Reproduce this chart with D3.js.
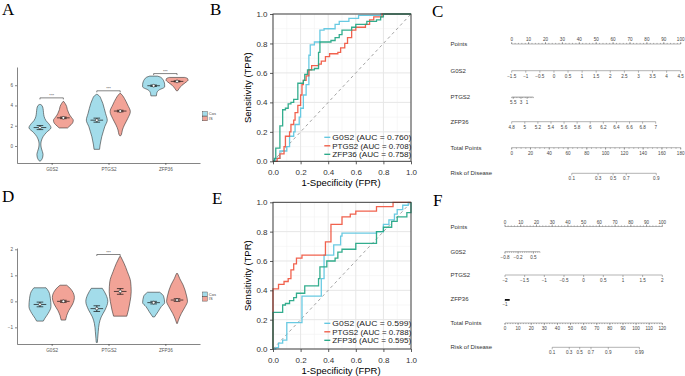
<!DOCTYPE html>
<html>
<head>
<meta charset="utf-8">
<style>
    body { margin: 0; background: #fff; }
    text { font-family: "Liberation Sans", Arial, sans-serif; }
    .letter { font-family: "Liberation Serif", "Times New Roman", serif; font-size: 17px; fill: #000; }
</style>
</head>
<body>
<svg id="fig" width="685" height="376"></svg>
<script src="https://d3js.org/d3.v7.min.js"></script>
<script>
// ---------------- data ----------------
const genes = ["G0S2", "PTGS2", "ZFP36"]
const groups = ["Cos", "IS"]

// violin outlines: [expression value, relative half width]
const aG0S2Cos  = [[-1.5,0.03],[-1.35,0.15],[-1.1,0.25],[-0.85,0.28],[-0.55,0.22],[-0.2,0.12],[0.2,0.08],[0.6,0.15],[0.95,0.3],[1.35,0.6],[1.8,1.0],[2.2,0.8],[2.5,0.55],[2.9,0.38],[3.3,0.32],[3.7,0.28],[4.0,0.18],[4.1,0.04]]
const aG0S2IS   = [[1.78,0.38],[1.9,0.5],[2.1,0.7],[2.3,0.85],[2.55,0.9],[2.8,0.75],[3.05,0.58],[3.35,0.45],[3.6,0.36],[3.9,0.3],[4.2,0.16],[4.4,0.03]]
const aPTGS2Cos = [[-0.33,0.25],[0.1,0.3],[0.5,0.37],[0.92,0.45],[1.4,0.58],[1.9,0.72],[2.55,0.95],[3.2,0.8],[3.7,0.68],[4.2,0.55],[4.6,0.4],[4.95,0.22],[5.1,0.03]]
const aPTGS2IS  = [[1.0,0.03],[1.1,0.1],[1.58,0.2],[2.07,0.38],[2.7,0.68],[3.4,0.92],[4.05,0.68],[4.7,0.38],[5.0,0.2],[5.2,0.03]]
const aZFP36Cos = [[4.95,0.25],[5.2,0.28],[5.5,0.45],[5.84,1.0],[6.1,1.0],[6.33,0.95],[6.6,0.82],[6.8,0.62],[6.9,0.35]]
const aZFP36IS  = [[5.45,0.05],[5.68,0.2],[6.0,0.45],[6.33,0.85],[6.5,1.0],[6.67,0.95],[6.77,0.7]]

const dG0S2Cos  = [[-0.76,0.3],[-0.65,0.45],[-0.46,0.75],[-0.2,1.0],[0.1,0.95],[0.37,0.8],[0.52,0.55]]
const dG0S2IS   = [[-0.72,0.2],[-0.55,0.3],[-0.35,0.5],[-0.1,0.85],[0.15,1.0],[0.4,0.8],[0.55,0.5],[0.62,0.3]]
const dPTGS2Cos = [[-1.58,0.05],[-1.42,0.08],[-1.17,0.13],[-0.85,0.22],[-0.6,0.4],[-0.33,0.75],[0,1.0],[0.24,0.85],[0.5,0.5]]
const dPTGS2IS  = [[-0.57,0.6],[-0.33,0.75],[0,0.9],[0.37,1.0],[0.75,0.95],[1.14,0.65],[1.46,0.35],[1.72,0.05]]
const dZFP36Cos = [[-0.6,0.08],[-0.4,0.4],[-0.2,0.7],[-0.05,1.0],[0.2,0.9],[0.35,0.55]]
const dZFP36IS  = [[-0.85,0.03],[-0.72,0.13],[-0.46,0.4],[-0.2,0.75],[0,0.95],[0.24,0.85],[0.63,0.55],[0.87,0.25],[1.07,0.05]]

// mean and error bar per gene/group (G0S2 Cos, G0S2 IS, PTGS2 Cos, ...)
const meanA = [1.82, 2.78, 2.55, 3.45, 5.95, 6.38]
const loA   = [1.62, 2.70, 2.35, 3.37, 5.88, 6.33]
const hiA   = [2.02, 2.86, 2.75, 3.53, 6.02, 6.43]
const meanD = [-0.12, 0.0, -0.28, 0.38, -0.05, 0.05]
const loD   = [-0.21, -0.04, -0.39, 0.27, -0.10, 0.0]
const hiD   = [-0.03, 0.04, -0.17, 0.49, 0.0, 0.10]

const sigGenesA = ["G0S2", "PTGS2", "ZFP36"]
const sigYA = [4.75, 5.45, 7.15]
const sigGenesD = ["PTGS2"]
const sigYD = [1.8]

// ROC curves: [FPR, TPR] at each step
const rocB_G0S2  = [[0,0],[0.02,0.02],[0.05,0.07],[0.1,0.1],[0.12,0.17],[0.15,0.2],[0.16,0.25],[0.19,0.3],[0.2,0.36],[0.22,0.45],[0.24,0.52],[0.26,0.72],[0.27,0.79],[0.3,0.81],[0.34,0.89],[0.37,0.9],[0.45,0.93],[0.48,0.95],[0.55,0.97],[0.62,0.99],[0.78,1],[1,1]]
const rocB_PTGS2 = [[0,0],[0.03,0.02],[0.05,0.05],[0.08,0.1],[0.09,0.17],[0.12,0.2],[0.13,0.25],[0.15,0.28],[0.16,0.33],[0.18,0.38],[0.2,0.45],[0.21,0.52],[0.22,0.55],[0.24,0.58],[0.26,0.62],[0.28,0.65],[0.33,0.66],[0.35,0.68],[0.38,0.71],[0.41,0.73],[0.47,0.74],[0.49,0.77],[0.52,0.8],[0.54,0.84],[0.57,0.89],[0.6,0.91],[0.67,0.93],[0.7,0.96],[0.73,0.98],[0.79,1],[1,1]]
const rocB_ZFP36 = [[0,0],[0.01,0.02],[0.02,0.09],[0.05,0.24],[0.07,0.35],[0.09,0.36],[0.11,0.39],[0.13,0.4],[0.15,0.42],[0.18,0.53],[0.22,0.55],[0.23,0.59],[0.25,0.62],[0.3,0.63],[0.33,0.74],[0.34,0.81],[0.42,0.82],[0.45,0.84],[0.48,0.86],[0.5,0.89],[0.57,0.91],[0.6,0.93],[0.68,0.95],[0.75,0.96],[0.78,0.98],[0.8,1],[1,1]]
const rocE_G0S2  = [[0,0],[0.02,0.01],[0.04,0.04],[0.07,0.06],[0.1,0.18],[0.21,0.36],[0.35,0.48],[0.37,0.64],[0.44,0.71],[0.49,0.77],[0.5,0.79],[0.75,0.8],[0.8,0.85],[0.84,0.88],[0.88,0.92],[0.9,0.95],[0.94,0.98],[0.98,1],[1,1]]
const rocE_PTGS2 = [[0,0],[0,0.41],[0.04,0.44],[0.08,0.46],[0.11,0.48],[0.13,0.54],[0.15,0.58],[0.17,0.62],[0.21,0.64],[0.38,0.73],[0.42,0.85],[0.5,0.9],[0.56,0.92],[0.6,0.94],[0.75,0.97],[0.87,1],[1,1]]
const rocE_ZFP36 = [[0,0],[0,0.25],[0.07,0.3],[0.09,0.31],[0.12,0.33],[0.15,0.35],[0.17,0.38],[0.23,0.43],[0.33,0.48],[0.34,0.56],[0.39,0.6],[0.45,0.62],[0.47,0.66],[0.5,0.68],[0.6,0.72],[0.75,0.8],[0.8,0.83],[0.86,0.87],[0.9,0.9],[0.97,0.93],[1,1]]
const aucB = ["0.760", "0.708", "0.758"]
const aucE = ["0.599", "0.788", "0.595"]
const rocTicks = [0, 0.2, 0.4, 0.6, 0.8, 1]

// nomograms
const nomoRows = ["Points", "G0S2", "PTGS2", "ZFP36", "Total Points", "Risk of Disease"]
const pointTicks = [0, 10, 20, 30, 40, 50, 60, 70, 80, 90, 100]
const nomoC_G0S2 = [-1.5, -1, -0.5, 0, 0.5, 1, 1.5, 2, 2.5, 3, 3.5, 4, 4.5]
const nomoC_PTGS2 = [5.5, 3, 1]
const nomoC_ZFP36 = [4.8, 5, 5.2, 5.4, 5.6, 5.8, 6, 6.2, 6.4, 6.6, 6.8, 7]
const nomoC_total = [0, 20, 40, 60, 80, 100, 120, 140, 160, 180]
const nomoC_risk = [0.1, 0.3, 0.5, 0.7, 0.9]
const nomoC_riskPts = [64, 92, 108, 122, 154]
const nomoF_G0S2 = [-0.8, -0.2, 0.5]
const nomoF_PTGS2 = [-2, -1.5, -1, -0.5, 0, 0.5, 1, 1.5, 2]
const nomoF_ZFP36 = [-1]
const nomoF_total = [0, 10, 20, 30, 40, 50, 60, 70, 80, 90, 100, 110, 120]
const nomoF_risk = [0.1, 0.3, 0.5, 0.7, 0.9, 0.99]
const nomoF_riskPts = [36, 49, 57, 65.6, 78.8, 102.5]

// ---------------- drawing ----------------
const groupColors = ["#A3DCEA", "#F2A397"]
const rocColors = ["#5CC5DF", "#F0553F", "#22A684"]
const svg = d3.select("#fig")
const minus = d => String(d).replace("-", "\u2212")

function violinPanel(shapes, domain, range, ticks, mean, lo, hi, sigGenes, sigY, legendTop) {
    let g = svg.append("g")
    let x = d3.scalePoint().domain(genes).range([17, 200]).padding(0.61)
    let y = d3.scaleLinear().domain(domain).range(range)
    let w = d3.scaleLinear().domain([0, 1]).range([0, 11])
    let dodge = 11.7
    let cx = (i) => x(genes[Math.floor(i / 2)]) + (i % 2 == 0 ? -dodge : dodge)

    shapes.forEach((s, i) => {
        let c = cx(i)
        let area = d3.area().curve(d3.curveMonotoneY)
            .x0(d => c - w(d[1])).x1(d => c + w(d[1])).y(d => y(d[0]))
        g.append("path").attr("d", area(s))
            .attr("fill", groupColors[i % 2]).attr("stroke", "#333").attr("stroke-width", 0.6)
    })

    mean.forEach((m, i) => {
        let c = cx(i)
        let k = g.append("g").attr("stroke", "#111").attr("stroke-width", 0.7)
        k.append("line").attr("x1", c).attr("x2", c).attr("y1", y(lo[i])).attr("y2", y(hi[i]))
        k.append("line").attr("x1", c - 3.3).attr("x2", c + 3.3).attr("y1", y(lo[i])).attr("y2", y(lo[i]))
        k.append("line").attr("x1", c - 3.3).attr("x2", c + 3.3).attr("y1", y(hi[i])).attr("y2", y(hi[i]))
        k.append("line").attr("x1", c - 6.3).attr("x2", c + 6.3).attr("y1", y(m)).attr("y2", y(m))
        k.append("circle").attr("cx", c).attr("cy", y(m)).attr("r", 1.4)
            .attr("fill", "#fff").attr("stroke-width", 0.5)
    })

    sigGenes.forEach((gene, j) => {
        let i = genes.indexOf(gene) * 2
        let x0 = cx(i), x1 = cx(i + 1), yy = y(sigY[j])
        g.append("path").attr("d", `M${x0},${yy + 1.5}V${yy}H${x1}V${yy + 1.5}`)
            .attr("fill", "none").attr("stroke", "#333").attr("stroke-width", 0.6)
        g.append("text").attr("x", (x0 + x1) / 2).attr("y", yy - 0.8)
            .attr("text-anchor", "middle").attr("font-size", 4).attr("fill", "#444").text("***")
    })

    g.append("g").attr("transform", "translate(17,0)")
        .call(d3.axisLeft(y).tickValues(ticks).tickSize(2).tickSizeOuter(0).tickPadding(2).tickFormat(minus))
    g.append("g").attr("transform", `translate(0,${range[0]})`)
        .call(d3.axisBottom(x).tickSize(2).tickSizeOuter(0).tickPadding(3))
    g.selectAll(".tick text").attr("font-size", 4.6).attr("fill", "#555").attr("font-family", "Liberation Sans")
    g.selectAll(".domain, .tick line").attr("stroke", "#333").attr("stroke-width", 0.6)

    groups.forEach((grp, i) => {
        g.append("rect").attr("x", 202.7).attr("y", legendTop + i * 4.8).attr("width", 4.5).attr("height", 4.3)
            .attr("fill", groupColors[i]).attr("stroke", "#333").attr("stroke-width", 0.4)
        g.append("text").attr("x", 208.8).attr("y", legendTop + i * 4.8 + 3.6)
            .attr("font-size", 4).attr("fill", "#444").text(grp)
    })
}

function rocPanel(curves, aucs, yRange, legendY) {
    let g = svg.append("g")
    let x = d3.scaleLinear().domain([0, 1]).range([273, 411])
    let y = d3.scaleLinear().domain([0, 1]).range(yRange)

    let minor = [0.1, 0.3, 0.5, 0.7, 0.9]
    minor.forEach(v => {
        g.append("line").attr("x1", x(v)).attr("x2", x(v)).attr("y1", y(0)).attr("y2", y(1)).attr("stroke", "#F2F2F2").attr("stroke-width", 0.6)
        g.append("line").attr("x1", x(0)).attr("x2", x(1)).attr("y1", y(v)).attr("y2", y(v)).attr("stroke", "#F2F2F2").attr("stroke-width", 0.6)
    })
    rocTicks.forEach(v => {
        g.append("line").attr("x1", x(v)).attr("x2", x(v)).attr("y1", y(0)).attr("y2", y(1)).attr("stroke", "#E6E6E6").attr("stroke-width", 1)
        g.append("line").attr("x1", x(0)).attr("x2", x(1)).attr("y1", y(v)).attr("y2", y(v)).attr("stroke", "#E6E6E6").attr("stroke-width", 1)
    })
    g.append("line").attr("x1", x(0)).attr("y1", y(0)).attr("x2", x(1)).attr("y2", y(1))
        .attr("stroke", "#999").attr("stroke-width", 0.9).attr("stroke-dasharray", "3,3")

    let line = d3.line().x(d => x(d[0])).y(d => y(d[1])).curve(d3.curveStepAfter)
    curves.forEach((c, i) => {
        g.append("path").attr("d", line(c)).attr("fill", "none")
            .attr("stroke", rocColors[i]).attr("stroke-width", 1.3).attr("stroke-opacity", 0.92)
    })

    g.append("rect").attr("x", x(0)).attr("y", y(1)).attr("width", x(1) - x(0)).attr("height", y(0) - y(1))
        .attr("fill", "none").attr("stroke", "#333").attr("stroke-width", 0.9)

    let fmt = d3.format(".1f")
    g.append("g").attr("transform", `translate(0,${y(0)})`)
        .call(d3.axisBottom(x).tickValues(rocTicks).tickFormat(fmt).tickSize(3).tickPadding(5))
    g.append("g").attr("transform", `translate(${x(0)},0)`)
        .call(d3.axisLeft(y).tickValues(rocTicks).tickFormat(fmt).tickSize(3).tickPadding(2.5))
    g.selectAll(".domain").remove()
    g.selectAll(".tick line").attr("stroke", "#333").attr("stroke-width", 0.8)
    g.selectAll(".tick text").attr("font-size", 8).attr("fill", "#333").attr("font-family", "Liberation Sans")

    g.append("text").attr("x", (x(0) + x(1)) / 2 - 1).attr("y", y(0) + 24.5).attr("text-anchor", "middle")
        .attr("font-size", 9.5).attr("fill", "#000").text("1-Specificity (FPR)")
    g.append("text").attr("transform", `translate(250.8,${(y(0) + y(1)) / 2}) rotate(-90)`)
        .attr("text-anchor", "middle").attr("font-size", 9.5).attr("fill", "#000").text("Sensitivity (TPR)")

    genes.forEach((gene, i) => {
        let ly = legendY + i * 8.5
        g.append("line").attr("x1", 324.3).attr("x2", 330.3).attr("y1", ly).attr("y2", ly)
            .attr("stroke", rocColors[i]).attr("stroke-width", 1.3)
        g.append("text").attr("x", 332.3).attr("y", ly + 2.8).attr("font-size", 7.6).attr("fill", "#222")
            .attr("textLength", 79).attr("lengthAdjust", "spacingAndGlyphs")
            .text(`${gene} (AUC = ${aucs[i]})`)
    })
}

function nomoAxis(g, yy, px, values, labels, minorVals, above) {
    let dir = above ? -1 : 1
    let ends = d3.extent(values.concat(minorVals).map(px))
    g.append("line").attr("x1", ends[0]).attr("x2", ends[1]).attr("y1", yy).attr("y2", yy)
    minorVals.forEach(v => g.append("line").attr("x1", px(v)).attr("x2", px(v)).attr("y1", yy).attr("y2", yy + dir * 1.1))
    values.forEach((v, i) => {
        g.append("line").attr("x1", px(v)).attr("x2", px(v)).attr("y1", yy).attr("y2", yy + dir * 2)
        g.append("text").attr("x", px(v)).attr("y", above ? yy - 2.8 : yy + 7)
            .attr("text-anchor", "middle").attr("stroke", "none").attr("fill", "#444")
            .attr("font-size", 4.6).text(labels ? labels[i] : minus(v))
    })
}

function nomoPanel(x0, x1, rowY, totalMax, spec) {
    let g = svg.append("g").attr("stroke", "#666").attr("stroke-width", 0.5)
    let pts = d3.scaleLinear().domain([0, 100]).range([x0, x1])
    let tot = d3.scaleLinear().domain([0, totalMax]).range([x0, x1])
    nomoRows.forEach((r, i) => {
        g.append("text").attr("x", 450.5).attr("y", rowY[i] + 2).attr("stroke", "none")
            .attr("fill", "#333").attr("font-size", 6).text(r)
    })
    nomoAxis(g, rowY[0], pts, pointTicks, null, d3.range(0, 100.1, 2), true)
    spec.forEach((s, k) => {
        let px = d3.scaleLinear().domain(s.domain).range(s.points.map(pts))
        nomoAxis(g, rowY[k + 1], px, s.ticks, null, s.minor, false)
        if (s.thick) {
            g.append("line").attr("x1", px(s.domain[0])).attr("x2", px(s.domain[1]))
                .attr("y1", rowY[k + 1] + 0.6).attr("y2", rowY[k + 1] + 0.6).attr("stroke", "#111").attr("stroke-width", 1.8)
        }
    })
    nomoAxis(g, rowY[4], tot, spec.total, null, spec.totalMinor, false)
    let risk = spec.riskPts.map(p => tot(p))
    nomoAxis(g, rowY[5], i => risk[i], d3.range(spec.risk.length), spec.risk, [], false)
}

// A and D: violins
violinPanel([aG0S2Cos, aG0S2IS, aPTGS2Cos, aPTGS2IS, aZFP36Cos, aZFP36IS],
    [-1.68, 7.8], [163, 67], [0, 2, 4, 6], meanA, loA, hiA, sigGenesA, sigYA, 111.7)
violinPanel([dG0S2Cos, dG0S2IS, dPTGS2Cos, dPTGS2IS, dZFP36Cos, dZFP36IS],
    [-1.64, 2.05], [344, 248], [-1, 0, 1, 2], meanD, loD, hiD, sigGenesD, sigYD, 292)

// B and E: ROC
rocPanel([rocB_G0S2, rocB_PTGS2, rocB_ZFP36], aucB, [161.3, 14], 137.3)
rocPanel([rocE_G0S2, rocE_PTGS2, rocE_ZFP36], aucE, [349, 202.3], 323.3)

// C and F: nomograms
let specC = [
    { domain: [-1.5, 4.5], points: [0, 100], ticks: nomoC_G0S2, minor: [] },
    { domain: [6, -1], points: [0, 12.8], ticks: nomoC_PTGS2, minor: d3.range(6, -1.01, -0.5) },
    { domain: [4.8, 7], points: [0, 85.2], ticks: nomoC_ZFP36, minor: [] }
]
specC.total = nomoC_total
specC.totalMinor = d3.range(0, 180.1, 5)
specC.risk = nomoC_risk
specC.riskPts = nomoC_riskPts
nomoPanel(511.7, 680.7, [44, 70.7, 97, 121.7, 147.7, 173.3], 180, specC)

let specF = [
    { domain: [-0.8, 0.8], points: [0, 22.2], ticks: nomoF_G0S2, minor: d3.range(-0.8, 0.81, 0.1) },
    { domain: [-2, 2], points: [0, 100], ticks: nomoF_PTGS2, minor: [] },
    { domain: [-1, -0.7], points: [0, 3], ticks: nomoF_ZFP36, minor: [], thick: true }
]
specF.total = nomoF_total
specF.totalMinor = d3.range(0, 120.1, 2)
specF.risk = nomoF_risk
specF.riskPts = nomoF_riskPts
nomoPanel(505, 662.3, [226.5, 251.7, 275, 299.3, 323, 347.3], 120, specF)

// panel letters
const letters = [["A", 2, 15], ["B", 210, 15], ["C", 432, 16.5], ["D", 2, 202.3], ["E", 212, 204.3], ["F", 433, 206]]
svg.selectAll(".letter").data(letters).enter().append("text").attr("class", "letter")
    .attr("x", d => d[1]).attr("y", d => d[2]).text(d => d[0])
</script>
</body>
</html>
